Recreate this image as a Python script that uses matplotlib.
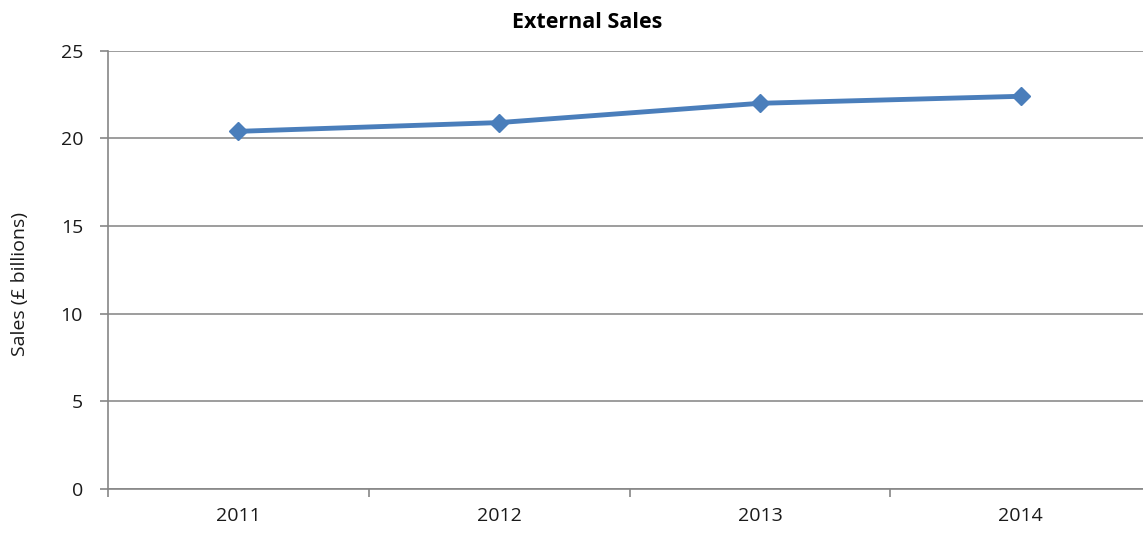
import matplotlib.pyplot as plt
import numpy as np

years = ['2011', '2012', '2013', '2014']
sales = [20.4, 20.9, 22.0, 22.4]
y_ticks = [0, 5, 10, 15, 20, 25]

plt.rcParams['font.family'] = ['Open Sans', 'DejaVu Sans']

fig = plt.figure(figsize=(11.43, 5.36), dpi=100)
ax = fig.add_axes([0.0945, 0.0877, 0.9125, 0.8177])

x = np.arange(len(years))
ax.plot(x, sales, color='#4a7ebb', linewidth=3.5, marker='D', markersize=9,
        markeredgecolor='#4a7ebb', markerfacecolor='#4a7ebb', zorder=3)

ax.set_xlim(-0.5, len(years) - 0.5)
ax.set_ylim(0, 25)
ax.set_yticks(y_ticks)
ax.set_yticklabels([str(t) for t in y_ticks], fontsize=14, color='#1a1a1a')

# category labels centred, ticks between categories
ax.set_xticks(x)
ax.set_xticklabels(years, fontsize=14, color='#1a1a1a')
ax.tick_params(axis='x', length=0, pad=13)
ax.set_xticks(np.arange(-0.5, len(years) + 0.5), minor=True)
ax.tick_params(axis='x', which='minor', length=6, width=1.2, color='#868686')
ax.tick_params(axis='y', length=6, width=1.2, color='#868686', pad=12)

ax.yaxis.grid(True, color='#8c8c8c', linewidth=1.2)
ax.set_axisbelow(True)
for side in ['top', 'right']:
    ax.spines[side].set_visible(False)
for side in ['left', 'bottom']:
    ax.spines[side].set_color('#868686')
    ax.spines[side].set_linewidth(1.2)

fig.text(0.0175, 0.47, 'Sales (£ billions)', rotation=90, ha='center', va='center',
         fontsize=14, color='#1a1a1a')
fig.text(0.514, 0.958, 'External Sales', ha='center', va='center',
         fontsize=15.5, fontweight='bold', color='#000000')

fig.savefig('out.png', dpi=100)
